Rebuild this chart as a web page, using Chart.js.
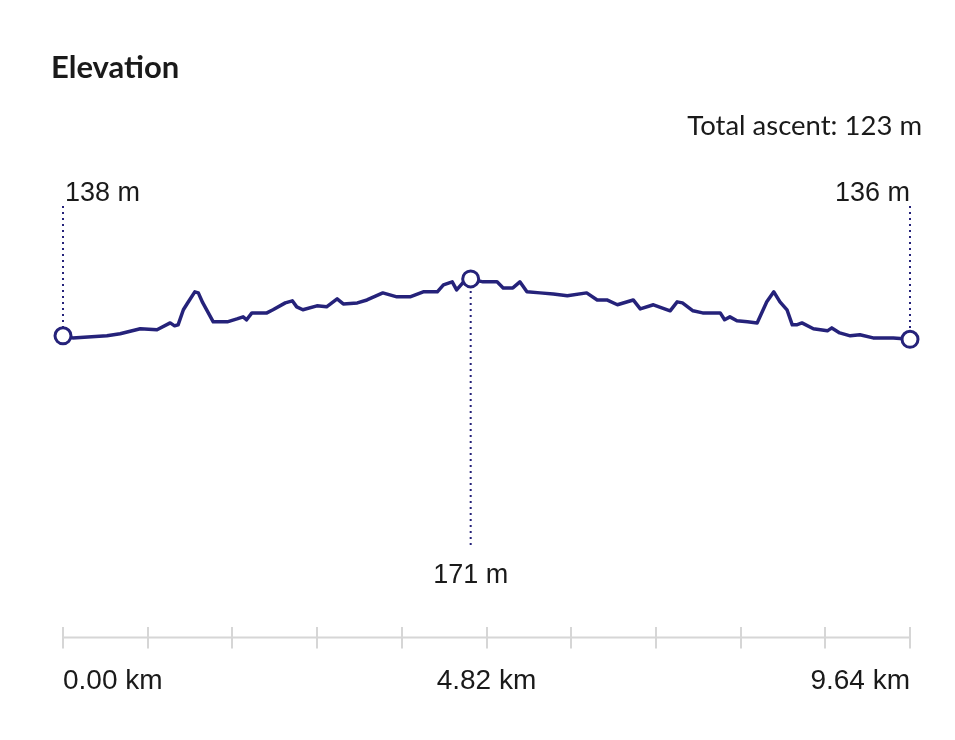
<!DOCTYPE html>
<html lang="en">
<head>
    <meta charset="UTF-8">
    <title>Elevation</title>
    <style>
        html, body {
            margin: 0;
            padding: 0;
            background: #fff;
        }
        .wrap {
            position: relative;
            width: 955px;
            height: 740px;
        }
        h1 {
            position: absolute;
            left: 51px;
            top: 47px;
            margin: 0;
            font: bold 31px 'Lato', sans-serif;
            color: #1a1a1a;
        }
        .ascent {
            position: absolute;
            right: 33px;
            top: 108px;
            font: 27.5px 'Lato', sans-serif;
            color: #1a1a1a;
        }
        canvas {
            position: absolute;
            left: 0;
            top: 0;
        }
    </style>
</head>
<body>
<div class="wrap">
    <canvas id="elevChart" width="955" height="740"></canvas>
    <h1>Elevation</h1>
    <div class="ascent">Total ascent: 123 m</div>
</div>

<script src="https://cdn.jsdelivr.net/npm/chart.js@4.4.1/dist/chart.umd.min.js"></script>
<script>
// distance along the route (km) and elevation (m)
const distKm = [0.00, 0.11, 0.50, 0.65, 0.88, 1.07, 1.22, 1.27, 1.31, 1.37, 1.42, 1.50, 1.54, 1.59, 1.71,
    1.87, 1.98, 2.05, 2.09, 2.15, 2.32, 2.39, 2.53, 2.61, 2.66, 2.73, 2.89, 3.00, 3.12, 3.19, 3.35,
    3.46, 3.64, 3.80, 3.95, 4.10, 4.26, 4.33, 4.43, 4.48, 4.55, 4.64, 4.78, 4.94, 5.01, 5.12, 5.20,
    5.28, 5.43, 5.58, 5.74, 5.96, 6.08, 6.19, 6.31, 6.49, 6.57, 6.72, 6.91, 6.99, 7.05, 7.17, 7.28,
    7.48, 7.53, 7.59, 7.67, 7.79, 7.90, 8.01, 8.09, 8.16, 8.24, 8.30, 8.35, 8.41, 8.54, 8.70, 8.75,
    8.84, 8.96, 9.07, 9.22, 9.45, 9.64];
const elevM = [138.0, 136.8, 138.0, 139.2, 142.1, 141.5, 145.5, 143.8, 144.4, 153.1, 157.2, 163.5, 162.9, 157.2, 146.1,
    146.1, 147.8, 149.0, 147.3, 151.3, 151.3, 153.1, 157.1, 158.3, 154.8, 153.1, 155.4, 154.8, 159.4, 156.5, 157.1,
    158.8, 162.9, 160.6, 160.6, 163.5, 163.5, 167.5, 169.3, 164.6, 168.7, 171.0, 169.3, 169.3, 165.8, 165.8, 169.3,
    163.5, 162.9, 162.3, 161.2, 162.9, 158.8, 158.8, 156.0, 158.8, 153.6, 156.0, 152.5, 157.7, 157.1, 152.5, 151.3,
    151.3, 147.3, 149.0, 146.7, 146.1, 145.5, 157.7, 163.5, 157.7, 153.1, 144.4, 144.4, 145.5, 142.1, 140.9, 142.6,
    139.7, 138.0, 138.6, 136.8, 136.8, 136.0];

// axis ticks every tenth of the route
const tickKm = [0, 0.964, 1.928, 2.892, 3.856, 4.82, 5.784, 6.748, 7.712, 8.676, 9.64];
const tickLabels = ['0.00 km', '', '', '', '', '4.82 km', '', '', '', '', '9.64 km'];

const NAVY = '#25227a';
const GREY = '#d6d6d6';

const iStart = 0;
const iEnd = elevM.length - 1;
const iMax = elevM.indexOf(Math.max(...elevM));

const markerRadius = elevM.map((v, i) => (i === iStart || i === iEnd || i === iMax) ? 8 : 0);

// horizontal axis line crossing the tick marks
const axisLine = {
    id: 'axisLine',
    beforeDatasetsDraw(chart) {
        const x = chart.scales.x;
        const y = chart.chartArea.bottom + 10;
        const ctx = chart.ctx;
        ctx.save();
        ctx.strokeStyle = GREY;
        ctx.lineWidth = 2;
        ctx.beginPath();
        ctx.moveTo(x.getPixelForValue(tickKm[0]), y);
        ctx.lineTo(x.getPixelForValue(tickKm[tickKm.length - 1]), y);
        ctx.stroke();
        ctx.restore();
    }
};

// dotted leader lines and elevation labels for start / max / end
const leaders = {
    id: 'leaders',
    beforeDatasetsDraw(chart) {
        const ctx = chart.ctx;
        const pts = chart.getDatasetMeta(0).data;
        const top = chart.chartArea.top;
        const s = pts[iStart], e = pts[iEnd], m = pts[iMax];
        ctx.save();
        ctx.strokeStyle = NAVY;
        ctx.lineWidth = 2;
        ctx.setLineDash([2, 4]);
        ctx.beginPath();
        ctx.moveTo(s.x, top + 106); ctx.lineTo(s.x, s.y);
        ctx.moveTo(e.x, top + 106); ctx.lineTo(e.x, e.y);
        ctx.moveTo(m.x, m.y); ctx.lineTo(m.x, top + 447);
        ctx.stroke();
        ctx.setLineDash([]);

        ctx.fillStyle = '#1a1a1a';
        ctx.font = '27px "Liberation Sans", Arial, sans-serif';
        ctx.textBaseline = 'middle';
        ctx.textAlign = 'left';
        ctx.fillText(Math.round(elevM[iStart]) + ' m', s.x + 2, top + 94);
        ctx.textAlign = 'right';
        ctx.fillText(Math.round(elevM[iEnd]) + ' m', e.x, top + 94);
        ctx.textAlign = 'center';
        ctx.fillText(Math.round(elevM[iMax]) + ' m', m.x, top + 476);
        ctx.restore();
    }
};

new Chart(document.getElementById('elevChart'), {
    type: 'line',
    data: {
        datasets: [{
            data: distKm.map((d, i) => ({ x: d, y: elevM[i] })),
            borderColor: NAVY,
            borderWidth: 3.5,
            borderJoinStyle: 'round',
            tension: 0,
            clip: false,
            pointRadius: markerRadius,
            pointHoverRadius: markerRadius,
            pointBackgroundColor: '#fff',
            pointBorderColor: NAVY,
            pointBorderWidth: 3
        }]
    },
    options: {
        responsive: false,
        animation: false,
        events: [],
        layout: {
            padding: { left: 63, right: 45, top: 100, bottom: 26 }
        },
        plugins: {
            legend: { display: false },
            tooltip: { enabled: false }
        },
        scales: {
            x: {
                type: 'linear',
                min: 0,
                max: 9.64,
                afterBuildTicks(scale) {
                    scale.ticks = tickKm.map(v => ({ value: v }));
                },
                border: { display: false },
                grid: {
                    drawOnChartArea: false,
                    drawTicks: true,
                    tickLength: 21,
                    color: GREY,
                    lineWidth: 2
                },
                ticks: {
                    autoSkip: false,
                    maxRotation: 0,
                    align: 'inner',
                    padding: 16,
                    color: '#1a1a1a',
                    font: { family: '"Liberation Sans", Arial, sans-serif', size: 28 },
                    callback: (v, i) => tickLabels[i]
                }
            },
            y: {
                display: false,
                min: -31,
                max: 274.7
            }
        }
    },
    plugins: [axisLine, leaders]
});
</script>
</body>
</html>
